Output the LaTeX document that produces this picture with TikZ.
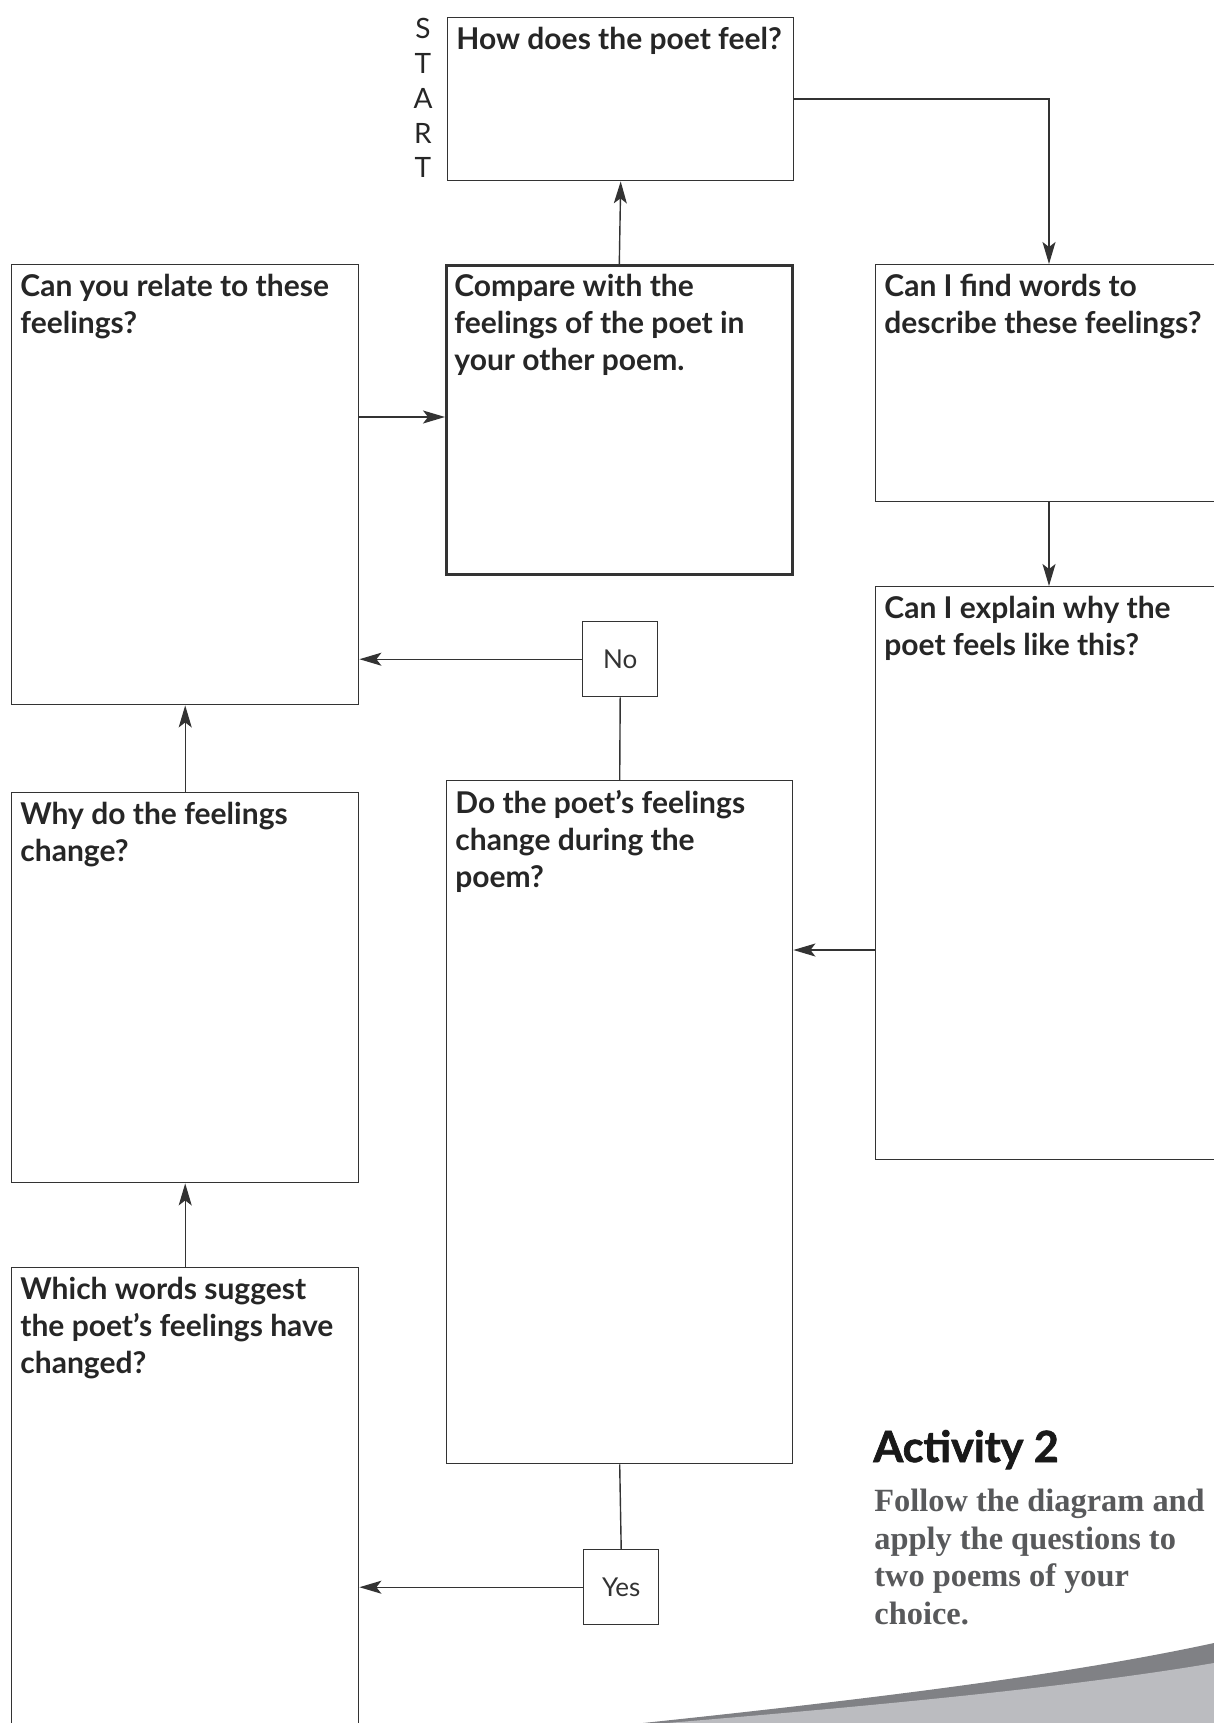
\documentclass[tikz,border=0pt]{standalone}
\usepackage{fontspec}
\setmainfont{Lato}
\newfontfamily\serifbold{Liberation Serif}
\newfontfamily\heavyfont[BoldFeatures={FakeBold=1.6}]{Lato}
\usetikzlibrary{arrows.meta,positioning}

\definecolor{lineGray}{HTML}{333333}
\definecolor{noteGray}{HTML}{58595B}
\definecolor{bandDark}{HTML}{808185}
\definecolor{bandLight}{HTML}{BBBCC0}

\begin{document}
\begin{tikzpicture}[x=1pt, y=-1pt, >={Stealth[length=11pt,width=6.5pt,inset=2.5pt]},
  BoxStyle/.style 2 args = {shape=rectangle, draw=lineGray, line width=0.7pt, anchor=north west, inner sep=0pt, minimum width=#1, minimum height=#2},
  AskStyle/.style = {anchor=north west, inner sep=0pt, align=left, font=\fontsize{15}{18.5}\selectfont\bfseries, text=black!85},
  ReplyStyle/.style = {shape=rectangle, draw=lineGray, line width=0.7pt, anchor=north west, inner sep=0pt, minimum size=37.5pt, font=\fontsize{13}{13}\selectfont, text=black!80},
  LinkStyle/.style = {draw=lineGray, line width=0.7pt}]
	\useasboundingbox (0,0) rectangle (607,861.5);
	\clip (0,0) rectangle (607,861.5);

	% boxes
	\node[BoxStyle={173pt}{81.5pt}] (feel) at (223.5,8.5) {};
	\node[BoxStyle={173.5pt}{220pt}] (relate) at (5.5,132) {};
	\node[BoxStyle={173pt}{154.5pt}, line width=1.3pt] (compare) at (222.5,132) {};
	\node[BoxStyle={180pt}{118.5pt}] (findw) at (437.5,132) {};
	\node[BoxStyle={180pt}{286.5pt}] (explain) at (437.5,293) {};
	\node[BoxStyle={173.5pt}{195pt}] (whychange) at (5.5,396) {};
	\node[BoxStyle={173pt}{341.5pt}] (change) at (223,390) {};
	\node[BoxStyle={173.5pt}{245pt}] (which) at (5.5,633.5) {};
	\node[ReplyStyle] (no) at (291,310.5) {No};
	\node[ReplyStyle] (yes) at (291.5,774.5) {Yes};

	% questions
	\node[AskStyle, below right=5pt and 4.5pt of feel.north west] (feeltext) {How does the poet feel?};
	\node[AskStyle, below right=5pt and 4.5pt of relate.north west] (relatetext) {Can you relate to these\\feelings?};
	\node[AskStyle, below right=5pt and 4.5pt of compare.north west] (comparetext) {Compare with the\\feelings of the poet in\\your other poem.};
	\node[AskStyle, below right=5pt and 4.5pt of findw.north west] (findwtext) {Can I find words to\\describe these feelings?};
	\node[AskStyle, below right=5pt and 4.5pt of explain.north west] (explaintext) {Can I explain why the\\poet feels like this?};
	\node[AskStyle, below right=5pt and 4.5pt of whychange.north west] (whychangetext) {Why do the feelings\\change?};
	\node[AskStyle, below right=5pt and 4.5pt of change.north west] (changetext) {Do the poet’s feelings\\change during the\\poem?};
	\node[AskStyle, below right=5pt and 4.5pt of which.north west] (whichtext) {Which words suggest\\the poet’s feelings have\\changed?};

	\node[anchor=north, inner sep=0pt, align=center, font=\fontsize{14}{17.4}\selectfont, text=black!85] (start) at (211.5,9) {S\\T\\A\\R\\T};

	% links
	\path[LinkStyle, ->] (feel.east) -| ([xshift=87pt]findw.north west);
	\path[LinkStyle, ->] ([xshift=87pt]findw.south west) -- ([xshift=87pt]explain.north west);
	\path[LinkStyle, ->] (compare.north) -- (feel.south);
	\path[LinkStyle, ->] ([yshift=-76.5pt]relate.north east) -- ([yshift=-76.5pt]relate.north east -| compare.west);
	\path[LinkStyle, ->] ([yshift=-182pt]explain.north west) -- ([yshift=-182pt]explain.north west -| change.east);
	\path[LinkStyle] (change.north) -- (no.south);
	\path[LinkStyle, ->] (no.west) -- (no.west -| relate.east);
	\path[LinkStyle, ->] (whychange.north) -- (relate.south);
	\path[LinkStyle, ->] (which.north) -- (whychange.south);
	\path[LinkStyle] (change.south) -- (yes.north);
	\path[LinkStyle, ->] (yes.west) -- (yes.west -| which.east);

	% activity note
	\node[anchor=base west, inner sep=0pt, font=\heavyfont\fontsize{21.5}{21.5}\selectfont\bfseries, text=black!90] (activity) at (436.5,731) {Activity 2};
	\node[anchor=north west, inner sep=0pt, align=left, font=\serifbold\fontsize{16.2}{18.75}\selectfont\bfseries, text=noteGray] (follow) at (437,744.5) {Follow the diagram and\\apply the questions to\\two poems of your\\choice.};

	% corner band
	\fill[bandDark] (321.5,861.5) .. controls (450,848) and (540,836) .. (607,821.5) -- (607,861.5) -- cycle;
	\fill[bandLight] (333.5,861.5) .. controls (460,851) and (545,842) .. (607,831.5) -- (607,861.5) -- cycle;
\end{tikzpicture}
\end{document}
